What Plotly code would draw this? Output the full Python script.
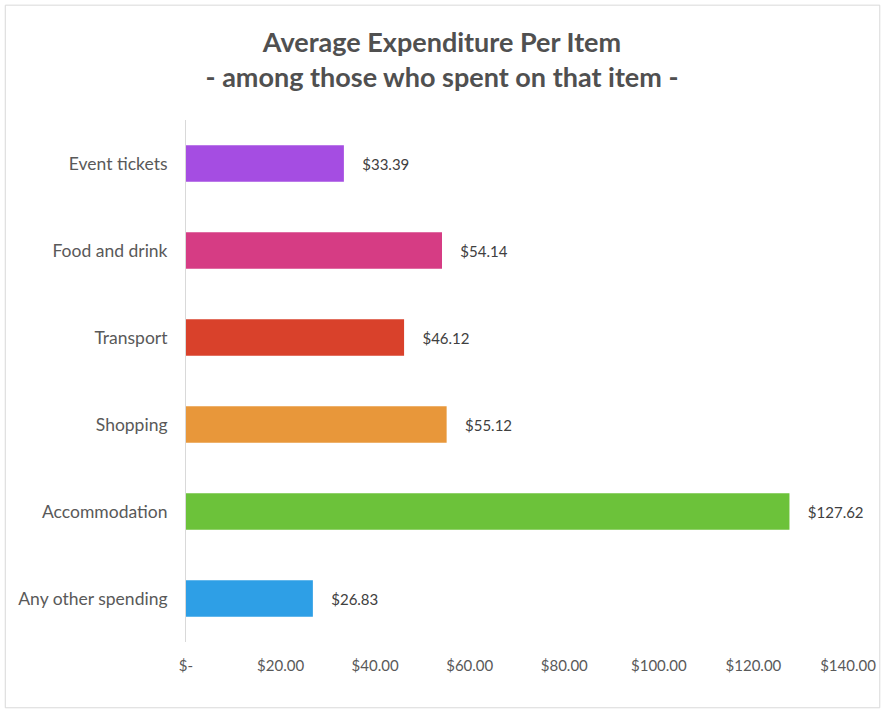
import plotly.graph_objects as go

categories = ["Any other spending", "Accommodation", "Shopping", "Transport", "Food and drink", "Event tickets"]
values = [26.83, 127.62, 55.12, 46.12, 54.14, 33.39]
colors = ["#2E9FE6", "#6CC23A", "#E8973A", "#D9412B", "#D63C84", "#A54DE2"]
tick_vals = [0, 20, 40, 60, 80, 100, 120, 140]
tick_text = ["$-", "$20.00", "$40.00", "$60.00", "$80.00", "$100.00", "$120.00", "$140.00"]
value_labels = ["\u00a0\u00a0\u00a0\u00a0${:.2f}".format(v) for v in values]

fig = go.Figure(go.Bar(
    y=categories, x=values, orientation="h",
    marker=dict(color=colors, line=dict(width=0)),
    text=value_labels, textposition="outside",
    textfont=dict(family="Lato, sans-serif", size=15, color="#404040"),
    cliponaxis=False,
))

fig.update_layout(
    width=884, height=715,
    paper_bgcolor="white", plot_bgcolor="white",
    margin=dict(l=186, r=36, t=120, b=73, autoexpand=False),
    bargap=0.58,
    showlegend=False,
    title=dict(
        text="<b>Average Expenditure Per Item<br>- among those who spent on that item -</b>",
        x=0.5, xanchor="center", y=0.927, yanchor="top",
        font=dict(family="Lato, sans-serif", size=27, color="#505050"),
        automargin=False,
    ),
    font=dict(family="Lato, sans-serif", color="#595959"),
    xaxis=dict(
        range=[0, 140], tickvals=tick_vals, ticktext=tick_text,
        showgrid=False, zeroline=False, showline=False, automargin=False,
        tickfont=dict(size=15, color="#595959"), ticks="", ticklen=0,
        ticklabelstandoff=13,
    ),
    yaxis=dict(
        showgrid=False, zeroline=False, showline=True, linecolor="#D9D9D9", linewidth=1,
        automargin=False,
        tickfont=dict(size=17.5, color="#595959"), ticks="", ticklabelstandoff=14,
    ),
    shapes=[dict(type="rect", xref="paper", yref="paper",
                 x0=-0.273, x1=1.048, y0=-0.126, y1=1.22,
                 line=dict(color="#D9D9D9", width=1), fillcolor="rgba(0,0,0,0)", layer="below")],
)

fig.write_html("out.html", post_script="document.body.style.margin='0';",
               config={"displayModeBar": False})
